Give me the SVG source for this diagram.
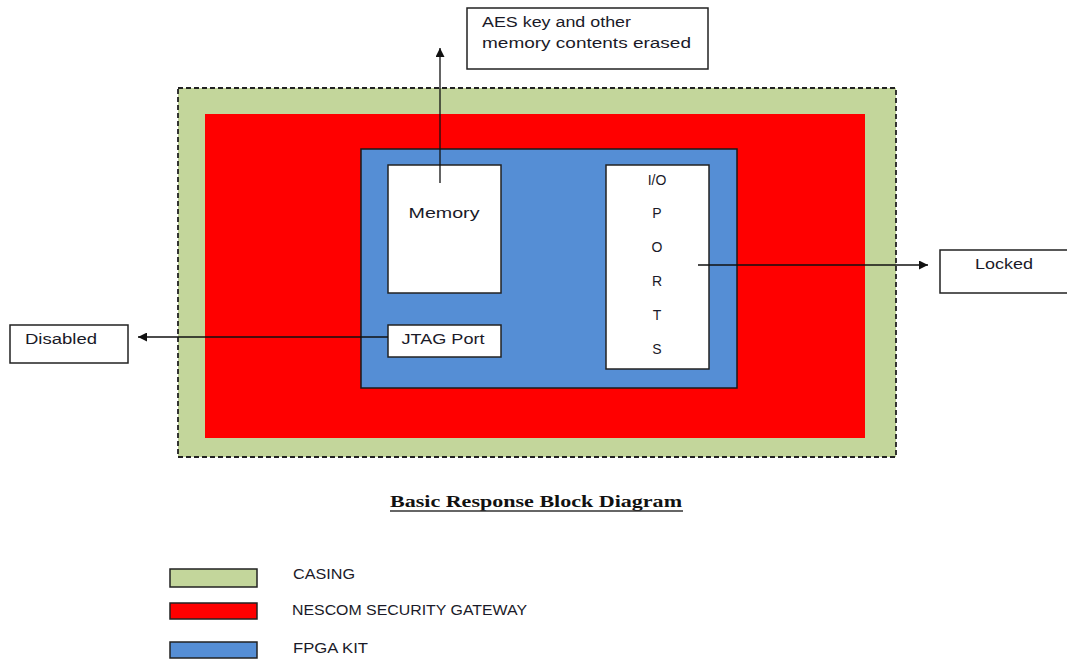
<svg xmlns="http://www.w3.org/2000/svg" width="1067" height="661" viewBox="0 0 1067 661">
<defs>
<marker id="ah" viewBox="0 0 10 10" refX="10" refY="5" markerWidth="9" markerHeight="9" markerUnits="userSpaceOnUse" orient="auto"><path d="M0,0 L10,5 L0,10 z" fill="#111"/></marker>
<style>
.t{font-family:"Liberation Sans",Arial,sans-serif;font-size:14px;fill:#1a1a28}
.c{text-anchor:middle}
.box{fill:#fff;stroke:#222;stroke-width:1.5}
.ln{stroke:#111;stroke-width:1.3;fill:none;marker-end:url(#ah)}
</style>
</defs>
<rect width="1067" height="661" fill="#fff"/>
<g id="casing"><rect x="178" y="88" width="718" height="369" fill="#C3D69B" stroke="#222" stroke-width="1.8" stroke-dasharray="5,3"/></g>
<g id="gateway"><rect x="205" y="114" width="660" height="324" fill="#FF0000"/></g>
<g id="fpga"><rect x="361" y="149" width="376" height="239" fill="#558ED5" stroke="#1a1a1a" stroke-width="1.5"/></g>
<g id="memory"><rect class="box" x="388" y="165" width="113" height="128"/><text class="t c" x="444" y="218" textLength="71" lengthAdjust="spacingAndGlyphs">Memory</text></g>
<g id="jtag"><rect class="box" x="388" y="325" width="113" height="32"/><text class="t c" x="443" y="344" textLength="83" lengthAdjust="spacingAndGlyphs">JTAG Port</text></g>
<g id="io"><rect class="box" x="606" y="165" width="103" height="204"/>
<text class="t c" x="657" y="185">I/O</text><text class="t c" x="657" y="218">P</text><text class="t c" x="657" y="252">O</text><text class="t c" x="657" y="286">R</text><text class="t c" x="657" y="320">T</text><text class="t c" x="657" y="354">S</text></g>
<g id="aes"><rect class="box" x="467" y="8" width="241" height="61"/><text class="t" x="482" y="27" textLength="149" lengthAdjust="spacingAndGlyphs">AES key and  other</text><text class="t" x="482" y="48" textLength="209" lengthAdjust="spacingAndGlyphs">memory contents erased</text></g>
<g id="locked"><rect class="box" x="940" y="250" width="128" height="43"/><text class="t" x="975" y="269" textLength="58" lengthAdjust="spacingAndGlyphs">Locked</text></g>
<g id="disabled"><rect class="box" x="10" y="325" width="118" height="38"/><text class="t" x="25" y="344" textLength="72" lengthAdjust="spacingAndGlyphs">Disabled</text></g>
<g id="connectors">
<line class="ln" x1="440" y1="183" x2="440" y2="48"/>
<line class="ln" x1="698" y1="265" x2="928" y2="265"/>
<line class="ln" x1="388" y1="337" x2="138" y2="337"/>
</g>
<g id="title"><text x="536" y="507" text-anchor="middle" font-family="'Liberation Serif','Times New Roman',serif" font-weight="bold" font-size="16" fill="#111" textLength="292" lengthAdjust="spacingAndGlyphs">Basic Response Block Diagram</text><line x1="390" y1="511" x2="683" y2="511" stroke="#333" stroke-width="1.5"/></g>
<g id="legend">
<rect x="170" y="569" width="87" height="18" fill="#C3D69B" stroke="#222" stroke-width="1.5"/>
<rect x="170" y="603" width="87" height="16" fill="#FF0000" stroke="#222" stroke-width="1.5"/>
<rect x="170" y="642" width="87" height="16" fill="#558ED5" stroke="#222" stroke-width="1.5"/>
<text class="t" x="293" y="579" textLength="62" lengthAdjust="spacingAndGlyphs">CASING</text>
<text class="t" x="292" y="615" textLength="235" lengthAdjust="spacingAndGlyphs">NESCOM SECURITY GATEWAY</text>
<text class="t" x="293" y="653" textLength="75" lengthAdjust="spacingAndGlyphs">FPGA KIT</text>
</g>
</svg>
